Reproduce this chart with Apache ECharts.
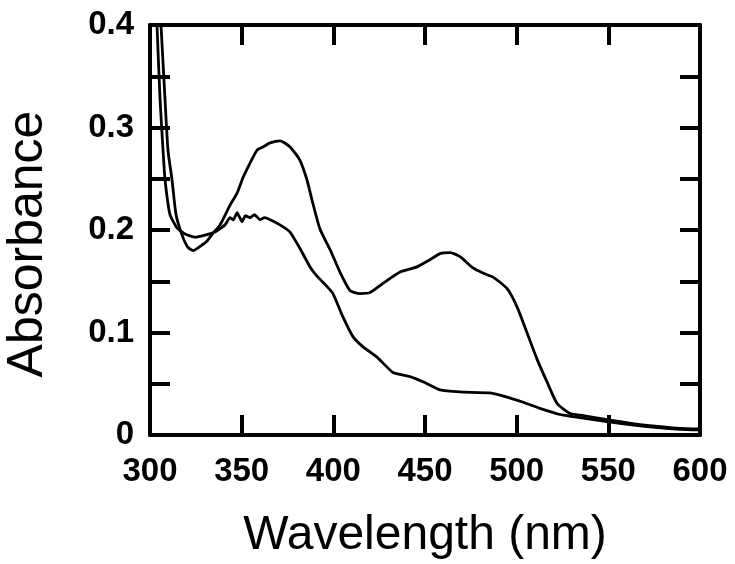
<!DOCTYPE html>
<html>
<head>
<meta charset="utf-8">
<script src="https://cdn.jsdelivr.net/npm/echarts@6/dist/echarts.min.js"></script>
<style>html,body{margin:0;padding:0;background:#fff;}#c{width:735px;height:564px;}</style>
</head>
<body>
<div id="c"></div>
<script>
// Curve with two bands (370 nm and 462 nm)
const wlA = [306.0,308.2,309.8,312.0,314.2,317.5,320.7,323.5,327.3,331.0,334.4,338.2,343.6,347.5,350.7,354.5,358.4,361.6,365.5,370.9,376.4,381.8,385.6,388.4,392.7,398.2,403.6,409.1,414.5,420.0,427.1,436.4,445.6,452.7,458.2,463.6,469.1,476.2,481.6,487.1,494.7,500.2,505.6,511.1,516.5,522.0,529.1,536.2,549.3,567.3,585.3,598.4,600];
const absA = [0.400,0.327,0.278,0.249,0.215,0.195,0.183,0.180,0.184,0.189,0.197,0.205,0.224,0.236,0.251,0.265,0.278,0.281,0.285,0.287,0.281,0.268,0.249,0.229,0.201,0.181,0.159,0.141,0.138,0.139,0.148,0.159,0.164,0.171,0.177,0.178,0.174,0.163,0.158,0.154,0.143,0.125,0.100,0.074,0.052,0.031,0.021,0.019,0.015,0.010,0.007,0.006,0.006];
// Curve with one broad band (~355 nm)
const wlB = [303.8,305.5,307.1,308.2,310.9,314.7,319.1,324.5,330.0,335.5,340.9,343.6,345.5,347.5,350.2,352.0,354.5,357.0,360.0,362.5,365.5,370.9,376.4,381.8,387.3,391.1,396.5,399.8,405.3,410.7,416.2,423.8,432.5,441.8,448.9,458.2,469.1,485.5,494.7,503.5,512.7,523.6,530.7,549.3,567.3,585.3,598.4,600];
const absB = [0.400,0.327,0.278,0.249,0.215,0.202,0.196,0.193,0.195,0.198,0.205,0.212,0.210,0.217,0.208,0.214,0.212,0.215,0.210,0.212,0.210,0.205,0.198,0.182,0.164,0.155,0.145,0.138,0.115,0.096,0.086,0.076,0.061,0.057,0.052,0.044,0.042,0.041,0.037,0.032,0.026,0.020,0.018,0.013,0.009,0.006,0.005,0.005];

const xLabel = 'Wavelength (nm)';
const yLabel = 'Absorbance';

const pairs = (xs, ys) => xs.map((x, i) => [x, ys[i]]);
const fmtY = v => {
  const t = v * 10;
  if (Math.abs(t - Math.round(t)) > 1e-6) return '';
  const r = Math.round(t);
  return r === 0 ? '0' : (r / 10).toFixed(1);
};

const axisLine = { show: true, onZero: false, lineStyle: { color: '#000', width: 4 } };
const tick = { show: true, inside: true, length: 20, lineStyle: { color: '#000', width: 4 } };
const labelFont = { color: '#000', fontFamily: 'Liberation Sans, Arial, sans-serif', fontWeight: 'bold', fontSize: 33 };

const chart = echarts.init(document.getElementById('c'), null, { renderer: 'canvas' });
chart.setOption({
  backgroundColor: '#fff',
  animation: false,
  grid: { left: 150, top: 25, width: 550, height: 410, containLabel: false, outerBoundsMode: 'none' },
  xAxis: [
    { type: 'value', min: 300, max: 600, interval: 50, position: 'bottom',
      axisLine, axisTick: tick, splitLine: { show: false },
      axisLabel: Object.assign({ margin: 20 }, labelFont),
      name: xLabel, nameLocation: 'middle', nameGap: 77,
      nameTextStyle: { color: '#000', fontFamily: 'Liberation Sans, Arial, sans-serif', fontSize: 48 } },
    { type: 'value', min: 300, max: 600, interval: 50, position: 'top',
      axisLine, axisTick: tick, splitLine: { show: false }, axisLabel: { show: false } }
  ],
  yAxis: [
    { type: 'value', min: 0, max: 0.4, interval: 0.05, position: 'left',
      axisLine, axisTick: tick, splitLine: { show: false },
      axisLabel: Object.assign({ margin: 16, formatter: fmtY }, labelFont),
      name: yLabel, nameLocation: 'middle', nameGap: 97,
      nameTextStyle: { color: '#000', fontFamily: 'Liberation Sans, Arial, sans-serif', fontSize: 50, padding: [0, 28, 0, 0] } },
    { type: 'value', min: 0, max: 0.4, interval: 0.05, position: 'right',
      axisLine, axisTick: tick, splitLine: { show: false }, axisLabel: { show: false } }
  ],
  series: [
    { type: 'line', data: pairs(wlA, absA), showSymbol: false, symbol: 'none', clip: true,
      smooth: 0.2,
      lineStyle: { color: '#000', width: 2.8 } },
    { type: 'line', data: pairs(wlB, absB), showSymbol: false, symbol: 'none', clip: true,
      smooth: 0.15,
      lineStyle: { color: '#000', width: 2.8 } }
  ]
});
</script>
</body>
</html>
